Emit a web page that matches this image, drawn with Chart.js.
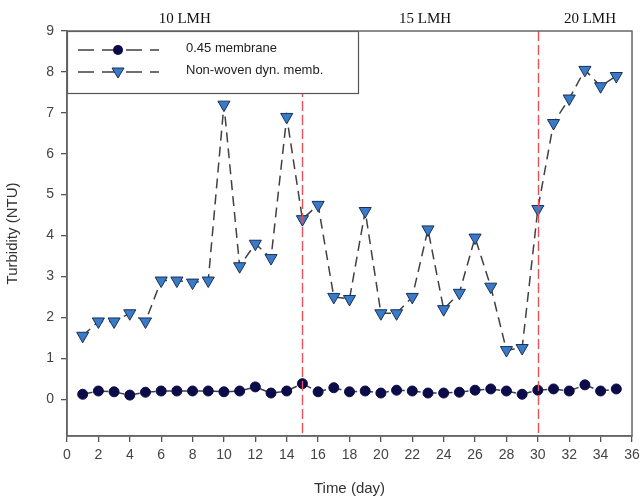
<!DOCTYPE html>
<html>
<head>
<meta charset="utf-8">
<script src="https://cdn.jsdelivr.net/npm/chart.js@4.4.0/dist/chart.umd.min.js"></script>
<style>
  html, body { margin: 0; padding: 0; background: #fff; }
  #wrap { width: 640px; height: 502px; }
</style>
</head>
<body>
<div id="wrap"><canvas id="myChart" width="640" height="502"></canvas></div>
<script>
const days = [1,2,3,4,5,6,7,8,9,10,11,12,13,14,15,16,17,18,19,20,21,22,23,24,25,26,27,28,29,30,31,32,33,34,35];
const membrane045 = [0.12,0.2,0.18,0.1,0.17,0.2,0.2,0.2,0.2,0.18,0.2,0.3,0.15,0.2,0.38,0.18,0.28,0.18,0.2,0.15,0.22,0.2,0.15,0.15,0.17,0.22,0.25,0.2,0.12,0.22,0.25,0.2,0.35,0.2,0.25];
const nonWoven = [1.55,1.9,1.9,2.1,1.9,2.9,2.9,2.85,2.9,7.2,3.25,3.8,3.45,6.9,4.4,4.75,2.5,2.45,4.6,2.1,2.1,2.5,4.15,2.2,2.6,3.95,2.75,1.2,1.25,4.65,6.75,7.35,8.05,7.65,7.9];
const seriesNames = ['0.45 membrane', 'Non-woven dyn. memb.'];
const fluxLabels = ['10 LMH', '15 LMH', '20 LMH'];
const fluxBounds = [0, 15, 30, 36];
const yTicks = [0,1,2,3,4,5,6,7,8,9];

const circleColor = '#0b0b4a';
const triFill = '#3a7bc8';
const triBorder = '#1a2f5a';
const lineColor = '#404040';
const dash = [10, 6];
const sans = '"Liberation Sans", Arial, sans-serif';

const toXY = (vals) => vals.map((v, i) => ({ x: days[i], y: v }));

const overlay = {
  id: 'overlay',
  afterDatasetsDraw(chart) {
    const ctx = chart.ctx;
    const xs = chart.scales.x;
    const top = chart.chartArea.top, bottom = chart.chartArea.bottom;
    ctx.save();
    // red flux change lines
    ctx.strokeStyle = '#e8505a';
    ctx.lineWidth = 1.4;
    ctx.setLineDash([10, 4]);
    [fluxBounds[1], fluxBounds[2]].forEach(d => {
      const px = Math.round(xs.getPixelForValue(d)) + 0.5;
      ctx.beginPath(); ctx.moveTo(px, top); ctx.lineTo(px, bottom); ctx.stroke();
    });
    ctx.setLineDash([]);
    // flux labels above the plot
    ctx.fillStyle = '#111';
    ctx.font = '15px "Liberation Serif", serif';
    ctx.textAlign = 'center';
    ctx.textBaseline = 'alphabetic';
    fluxLabels.forEach((t, i) => {
      const c = (xs.getPixelForValue(fluxBounds[i]) + xs.getPixelForValue(fluxBounds[i + 1])) / 2;
      ctx.fillText(t, c + (i === 0 ? 0 : 5), 23);
    });
    // legend box
    const lx = chart.chartArea.left, ly = top;
    ctx.fillStyle = '#fff';
    ctx.fillRect(lx, ly, 291, 62);
    ctx.strokeStyle = '#555';
    ctx.lineWidth = 1.2;
    ctx.strokeRect(lx + 0.5, ly + 0.5, 291, 62);
    const rows = [ly + 19, ly + 41];
    rows.forEach((ry, i) => {
      ctx.strokeStyle = lineColor;
      ctx.lineWidth = 1.5;
      ctx.setLineDash([16, 8]);
      ctx.beginPath(); ctx.moveTo(lx + 11, ry); ctx.lineTo(lx + 92, ry); ctx.stroke();
      ctx.setLineDash([]);
      const mx = lx + 51;
      ctx.beginPath();
      if (i === 0) {
        ctx.fillStyle = circleColor;
        ctx.arc(mx, ry, 5, 0, Math.PI * 2);
        ctx.fill();
      } else {
        ctx.fillStyle = triFill;
        ctx.strokeStyle = triBorder;
        ctx.lineWidth = 1;
        ctx.moveTo(mx - 6, ry - 4); ctx.lineTo(mx + 6, ry - 4); ctx.lineTo(mx, ry + 6); ctx.closePath();
        ctx.fill(); ctx.stroke();
      }
      ctx.fillStyle = '#222';
      ctx.font = '13px ' + sans;
      ctx.textAlign = 'left';
      ctx.textBaseline = 'middle';
      ctx.fillText(seriesNames[i], lx + 119, ry - 2);
    });
    // frame
    ctx.strokeStyle = '#666';
    ctx.lineWidth = 1.5;
    ctx.strokeRect(chart.chartArea.left, top, chart.chartArea.right - chart.chartArea.left, bottom - top);
    ctx.restore();
  }
};

new Chart(document.getElementById('myChart'), {
  type: 'line',
  data: {
    datasets: [
      {
        label: seriesNames[0],
        data: toXY(membrane045),
        borderColor: lineColor,
        borderWidth: 1.5,
        borderDash: dash,
        pointStyle: 'circle',
        pointRadius: 5,
        pointBackgroundColor: circleColor,
        pointBorderColor: circleColor,
        pointBorderWidth: 1,
        tension: 0
      },
      {
        label: seriesNames[1],
        data: toXY(nonWoven),
        borderColor: lineColor,
        borderWidth: 1.5,
        borderDash: dash,
        pointStyle: 'triangle',
        rotation: 180,
        pointRadius: 7,
        pointBackgroundColor: triFill,
        pointBorderColor: triBorder,
        pointBorderWidth: 1,
        tension: 0
      }
    ]
  },
  options: {
    responsive: false,
    animation: false,
    layout: { padding: { left: 0, right: 4, top: 31, bottom: 0 } },
    plugins: { legend: { display: false }, tooltip: { enabled: false } },
    scales: {
      x: {
        type: 'linear',
        min: 0, max: 36,
        ticks: { stepSize: 2, color: '#444', font: { size: 14, family: sans }, padding: 5 },
        grid: { display: true, drawOnChartArea: false, drawTicks: true, tickLength: 6, tickColor: '#555', lineWidth: 1.3 },
        border: { display: true, color: '#666', width: 1.5 },
        title: { display: true, text: 'Time (day)', color: '#333', font: { size: 15, family: sans }, padding: { top: 4 } },
        afterFit(scale) { scale.height = 66; scale.paddingRight = 0; }
      },
      y: {
        type: 'linear',
        min: -0.9, max: 9,
        afterBuildTicks(scale) { scale.ticks = yTicks.map(v => ({ value: v })); },
        ticks: { color: '#444', font: { size: 14, family: sans }, padding: 7 },
        grid: { display: true, drawOnChartArea: false, drawTicks: true, tickLength: 6, tickColor: '#555', lineWidth: 1.3 },
        border: { display: true, color: '#666', width: 1.5 },
        title: { display: true, text: 'Turbidity (NTU)', color: '#333', font: { size: 15, family: sans }, padding: { bottom: 2 } },
        afterFit(scale) { scale.width = 67; }
      }
    }
  },
  plugins: [overlay]
});
</script>
</body>
</html>
